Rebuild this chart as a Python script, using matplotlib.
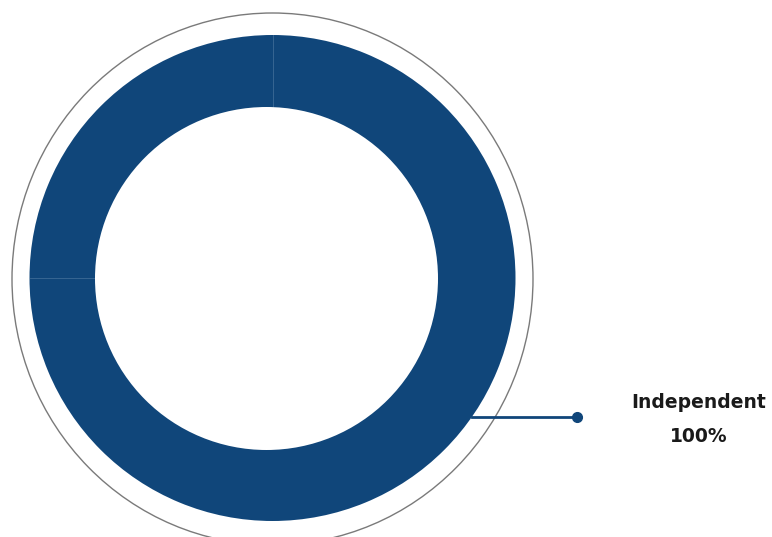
import numpy as np
import matplotlib
matplotlib.use('agg')
import matplotlib.pyplot as plt
from matplotlib.patches import Circle, Ellipse

labels = ["Independent"]
shares = [100]
colors = ["#10467a"]

W, H = 772, 537
fig = plt.figure(figsize=(W / 100, H / 100), dpi=100)
ax = fig.add_axes([0, 0, 1, 1])

cx, cy = 272.5, H - 278
r_out = 243
hole_x, hole_y, r_in = 266.5, H - 278.5, 171.5

# thin ring around the donut
ax.add_patch(Ellipse((cx, H - 279), 521, 532, fill=False, edgecolor="#7a7a7a", lw=1.0))

wedges, _ = ax.pie(shares, colors=colors, radius=r_out, center=(cx, cy),
                   startangle=90, counterclock=False,
                   wedgeprops=dict(edgecolor='none'), frame=True)
# hole of the donut
ax.add_patch(Circle((hole_x, hole_y), r_in, facecolor='white', edgecolor='none', zorder=3))

ax.set_xlim(0, W)
ax.set_ylim(0, H)
ax.set_aspect('equal')
ax.axis('off')

# faint seams at 12 and 9 o'clock
ax.plot([cx, cx], [hole_y + r_in, cy + r_out], color="#3d6a96", lw=0.6, zorder=2)
ax.plot([cx - r_out, hole_x - r_in], [cy, cy], color="#3d6a96", lw=0.6, zorder=2)

# leader line and label
ly = H - 417
lx0 = cx + np.sqrt(r_out ** 2 - (cy - ly) ** 2)
ax.plot([lx0, 577], [ly, ly], color=colors[0], lw=2, zorder=4)
ax.plot([577], [ly], 'o', color=colors[0], ms=7, zorder=4)
ax.text(699, H - 403, labels[0], ha='center', va='center',
        fontsize=13.5, fontweight='bold', color="#1a1a1a", family="DejaVu Sans")
ax.text(699, H - 437, f"{shares[0]}%", ha='center', va='center',
        fontsize=13.5, fontweight='bold', color="#1a1a1a", family="DejaVu Sans")

fig.savefig("out.png", dpi=100)
